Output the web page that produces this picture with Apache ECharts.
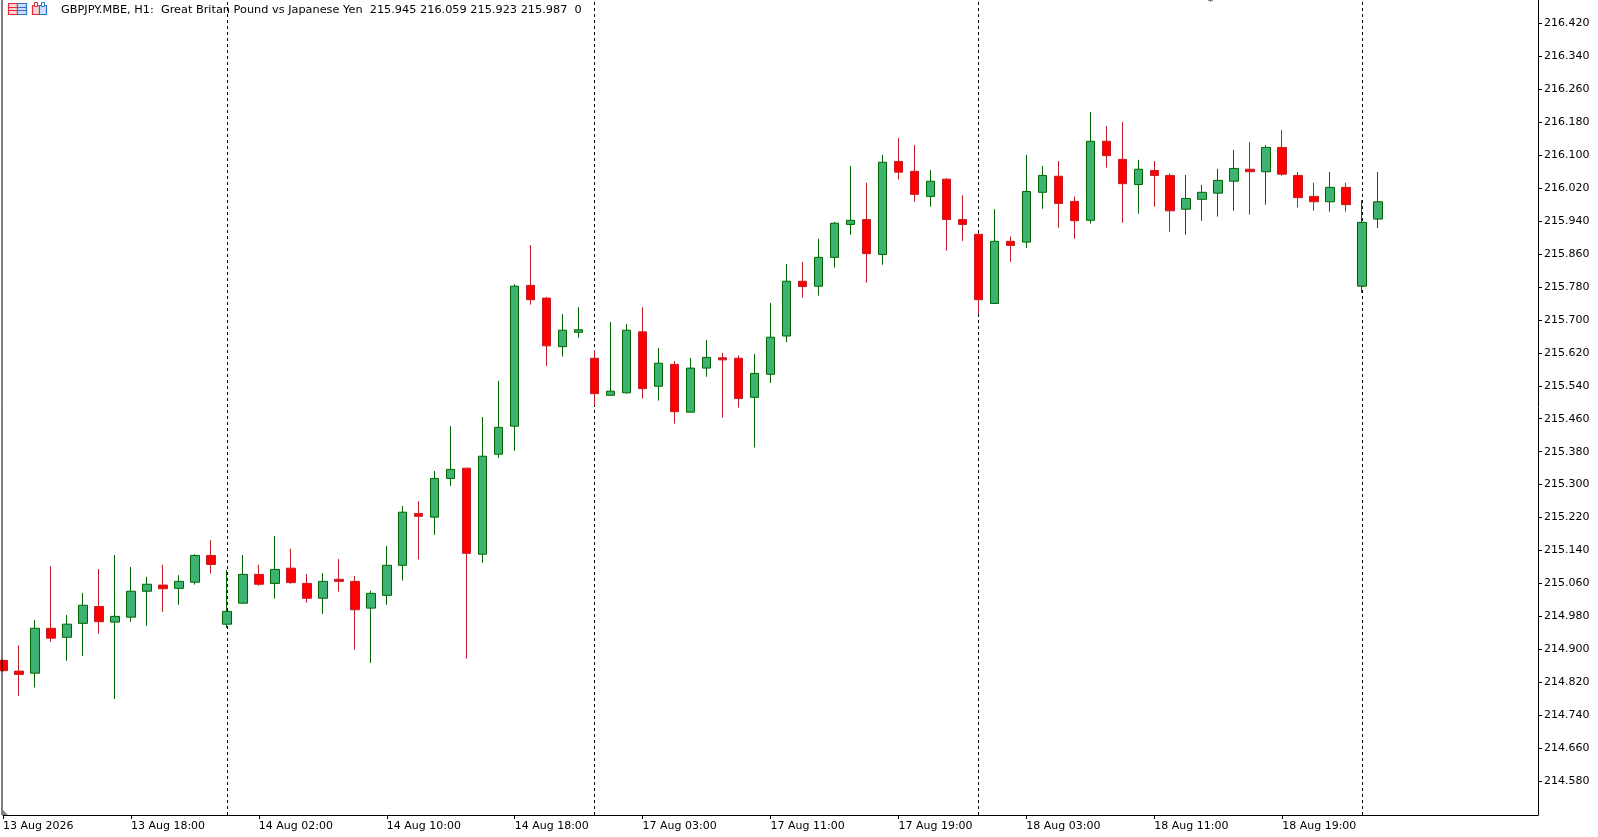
<!DOCTYPE html>
<html>
<head>
<meta charset="utf-8">
<script src="https://cdn.jsdelivr.net/npm/echarts@6/dist/echarts.min.js"></script>
<style>
html,body{margin:0;padding:0;background:#fff;}
#chart{width:1598px;height:837px;}
</style>
</head>
<body>
<div id="chart"></div>
<script>
// ---- data ----
const days = [['13 Aug', 10, 23], ['14 Aug', 0, 22], ['17 Aug', 0, 23], ['18 Aug', 0, 23], ['19 Aug', 0, 1]];
const categories = [];
days.forEach(function (d) {
  for (let h = d[1]; h <= d[2]; h++) categories.push(d[0] + ' ' + String(h).padStart(2, '0') + ':00');
});
const shiftSlots = ['s1', 's2', 's3', 's4', 's5', 's6', 's7', 's8', 's9', 's10'];

const opens = [
  214.873, 214.847, 214.842, 214.951, 214.929, 214.963, 215.004, 214.966, 214.978, 215.041,
  215.056, 215.048, 215.063, 215.128, 214.961, 215.012, 215.082, 215.060, 215.097, 215.060,
  215.024, 215.070, 215.065, 215.000, 215.031, 215.104, 215.230, 215.221, 215.315, 215.340,
  215.131, 215.374, 215.442, 215.784, 215.753, 215.635, 215.670, 215.607, 215.517, 215.523,
  215.671, 215.539, 215.592, 215.476, 215.583, 215.608, 215.607, 215.512, 215.568, 215.661,
  215.794, 215.782, 215.852, 215.932, 215.944, 215.859, 216.085, 216.061, 216.000, 216.042,
  215.944, 215.908, 215.740, 215.891, 215.889, 216.010, 216.049, 215.988, 215.942, 216.134,
  216.090, 216.029, 216.063, 216.051, 215.969, 215.993, 216.008, 216.037, 216.066, 216.060,
  216.119, 216.051, 216.000, 215.987, 216.022, 215.782, 215.945
];
const highs = [
  214.876, 214.910, 214.971, 215.102, 214.983, 215.037, 215.095, 215.129, 215.100, 215.076,
  215.105, 215.080, 215.131, 215.165, 215.093, 215.129, 215.105, 215.175, 215.144, 215.083,
  215.085, 215.119, 215.078, 215.042, 215.151, 215.248, 215.260, 215.333, 215.442, 215.340,
  215.464, 215.552, 215.787, 215.882, 215.756, 215.714, 215.731, 215.627, 215.695, 215.690,
  215.731, 215.632, 215.600, 215.608, 215.651, 215.620, 215.614, 215.617, 215.741, 215.836,
  215.841, 215.897, 215.938, 216.074, 216.033, 216.101, 216.142, 216.125, 216.064, 216.044,
  216.003, 215.910, 215.969, 215.903, 216.101, 216.074, 216.086, 216.000, 216.205, 216.171,
  216.181, 216.089, 216.086, 216.056, 216.052, 216.028, 216.067, 216.113, 216.132, 216.125,
  216.161, 216.059, 216.033, 216.059, 216.033, 215.991, 216.059
];
const lows = [
  214.845, 214.787, 214.807, 214.918, 214.872, 214.884, 214.938, 214.779, 214.967, 214.957,
  214.991, 215.008, 215.057, 215.084, 214.952, 215.011, 215.054, 215.023, 215.059, 215.013,
  214.986, 215.040, 214.899, 214.867, 215.008, 215.067, 215.118, 215.178, 215.297, 214.877,
  215.110, 215.365, 215.382, 215.737, 215.588, 215.611, 215.657, 215.492, 215.517, 215.521,
  215.509, 215.504, 215.448, 215.476, 215.562, 215.463, 215.487, 215.390, 215.547, 215.646,
  215.754, 215.759, 215.827, 215.907, 215.790, 215.834, 216.041, 215.987, 215.975, 215.868,
  215.892, 215.714, 215.740, 215.841, 215.875, 215.970, 215.924, 215.897, 215.934, 216.070,
  215.936, 215.958, 215.975, 215.914, 215.907, 215.941, 215.951, 215.965, 215.956, 215.980,
  216.050, 215.973, 215.965, 215.963, 215.963, 215.766, 215.923
];
const closes = [
  214.848, 214.839, 214.951, 214.927, 214.961, 215.007, 214.967, 214.980, 215.041, 215.058,
  215.047, 215.065, 215.128, 215.106, 214.992, 215.082, 215.058, 215.094, 215.062, 215.024,
  215.065, 215.065, 214.996, 215.036, 215.104, 215.233, 215.223, 215.315, 215.337, 215.133,
  215.369, 215.439, 215.782, 215.749, 215.637, 215.675, 215.676, 215.521, 215.527, 215.675,
  215.533, 215.595, 215.477, 215.583, 215.609, 215.603, 215.509, 215.570, 215.658, 215.794,
  215.781, 215.852, 215.935, 215.942, 215.861, 216.083, 216.059, 216.005, 216.037, 215.944,
  215.932, 215.749, 215.891, 215.881, 216.012, 216.051, 215.983, 215.941, 216.134, 216.099,
  216.031, 216.066, 216.051, 215.965, 215.995, 216.010, 216.039, 216.068, 216.060, 216.119,
  216.054, 215.997, 215.987, 216.022, 215.980, 215.937, 215.987
];

const xTickCats = ['13 Aug 10:00', '13 Aug 18:00', '14 Aug 02:00', '14 Aug 10:00', '14 Aug 18:00',
  '17 Aug 03:00', '17 Aug 11:00', '17 Aug 19:00', '18 Aug 03:00', '18 Aug 11:00', '18 Aug 19:00'];
const xTickTexts = ['13 Aug 2026', '13 Aug 18:00', '14 Aug 02:00', '14 Aug 10:00', '14 Aug 18:00',
  '17 Aug 03:00', '17 Aug 11:00', '17 Aug 19:00', '18 Aug 03:00', '18 Aug 11:00', '18 Aug 19:00'];
const separators = ['14 Aug 00:00', '17 Aug 00:00', '18 Aug 00:00', '19 Aug 00:00'];
const yTicks = [214.58, 214.66, 214.74, 214.82, 214.90, 214.98, 215.06, 215.14, 215.22, 215.30,
  215.38, 215.46, 215.54, 215.62, 215.70, 215.78, 215.86, 215.94, 216.02, 216.10, 216.18,
  216.26, 216.34, 216.42];
const yMin = 214.4975;
const yMax = 216.4771;
const headerText = 'GBPJPY.MBE, H1:  Great Britan Pound vs Japanese Yen  215.945 216.059 215.923 215.987  0';

// ---- chart ----
const ohlc = opens.map(function (o, i) { return [o, closes[i], lows[i], highs[i]]; });
const FONT = '"DejaVu Sans", Tahoma, sans-serif';
const chart = echarts.init(document.getElementById('chart'));

chart.setOption({
  animation: false,
  backgroundColor: '#ffffff',
  grid: { left: 2, right: 60, top: 0, bottom: 22, containLabel: false },
  xAxis: {
    type: 'category',
    data: categories.concat(shiftSlots),
    boundaryGap: false,
    axisLine: { show: true, lineStyle: { color: '#000', width: 1 } },
    axisTick: {
      show: true, length: 4, lineStyle: { color: '#000' },
      interval: function (i, v) { return xTickCats.indexOf(v) >= 0; }
    },
    axisLabel: {
      show: true, margin: 6, align: 'left', color: '#000',
      fontFamily: FONT, fontSize: 11,
      interval: function (i, v) { return xTickCats.indexOf(v) >= 0; },
      formatter: function (v) { const k = xTickCats.indexOf(v); return k >= 0 ? xTickTexts[k] : ''; }
    },
    splitLine: { show: false }
  },
  yAxis: {
    type: 'value',
    position: 'right',
    min: yMin,
    max: yMax,
    scale: true,
    axisLine: { show: true, lineStyle: { color: '#000', width: 1 } },
    axisTick: { show: true, length: 4, lineStyle: { color: '#000' }, customValues: yTicks },
    axisLabel: {
      show: true, margin: 6, color: '#000', fontFamily: FONT, fontSize: 11,
      customValues: yTicks,
      formatter: function (v) { return Number(v).toFixed(3); }
    },
    splitLine: { show: false }
  },
  series: [{
    type: 'candlestick',
    data: ohlc,
    barWidth: 9,
    clip: true,
    z: 3,
    itemStyle: {
      color: '#3CB371',
      color0: '#FF0000',
      borderColor: '#006400',
      borderColor0: '#C21E28',
      borderWidth: 1
    },
    emphasis: { disabled: true },
    markLine: {
      silent: true,
      z: 1,
      symbol: ['none', 'none'],
      label: { show: false },
      lineStyle: { color: '#000', type: [3, 3], width: 1 },
      emphasis: { disabled: true },
      data: separators.map(function (s) { return { xAxis: s }; })
    }
  }],
  graphic: [
    // left border
    { type: 'line', shape: { x1: 2, y1: 0, x2: 2, y2: 815 }, style: { stroke: '#000', lineWidth: 1 }, z: 10 },
    // bottom-left shift marker
    { type: 'polygon', shape: { points: [[3, 810], [3, 815], [8, 815]] }, style: { fill: '#7A8896' }, z: 10 },
    // top small marker
    { type: 'line', shape: { x1: 1210.5, y1: 0, x2: 1210.5, y2: 2 }, style: { stroke: '#7A8896', lineWidth: 1 }, z: 10 },
    { type: 'line', shape: { x1: 1208, y1: 0.5, x2: 1213, y2: 0.5 }, style: { stroke: '#7A8896', lineWidth: 1 }, z: 10 },
    // icon 1 (red / blue list)
    { type: 'rect', shape: { x: 8.5, y: 3.5, width: 9, height: 11 }, style: { fill: '#FBD3D3', stroke: '#E0303A', lineWidth: 1.2 }, z: 10 },
    { type: 'line', shape: { x1: 9, y1: 7.5, x2: 17, y2: 7.5 }, style: { stroke: '#E0303A', lineWidth: 1 }, z: 11 },
    { type: 'line', shape: { x1: 9, y1: 10.5, x2: 17, y2: 10.5 }, style: { stroke: '#E0303A', lineWidth: 1 }, z: 11 },
    { type: 'rect', shape: { x: 17.5, y: 3.5, width: 9, height: 11 }, style: { fill: '#CFE0F7', stroke: '#2F74D0', lineWidth: 1.2 }, z: 10 },
    { type: 'line', shape: { x1: 18, y1: 7.5, x2: 26, y2: 7.5 }, style: { stroke: '#2F74D0', lineWidth: 1 }, z: 11 },
    { type: 'line', shape: { x1: 18, y1: 10.5, x2: 26, y2: 10.5 }, style: { stroke: '#2F74D0', lineWidth: 1 }, z: 11 },
    // icon 2 (red / blue pages)
    { type: 'rect', shape: { x: 32.5, y: 5.5, width: 7, height: 9 }, style: { fill: '#FBD3D3', stroke: '#E0303A', lineWidth: 1.2 }, z: 10 },
    { type: 'rect', shape: { x: 34.5, y: 2.5, width: 3, height: 4 }, style: { fill: '#ffffff', stroke: '#E0303A', lineWidth: 1 }, z: 11 },
    { type: 'rect', shape: { x: 39.5, y: 5.5, width: 7, height: 9 }, style: { fill: '#CFE0F7', stroke: '#2F74D0', lineWidth: 1.2 }, z: 10 },
    { type: 'rect', shape: { x: 41.5, y: 2.5, width: 3, height: 4 }, style: { fill: '#ffffff', stroke: '#2F74D0', lineWidth: 1 }, z: 11 },
    // header text
    { type: 'text', x: 61, y: 10, style: { text: headerText, fill: '#000', font: '11.3px ' + FONT, textVerticalAlign: 'middle' }, z: 12 }
  ]
});
</script>
</body>
</html>
